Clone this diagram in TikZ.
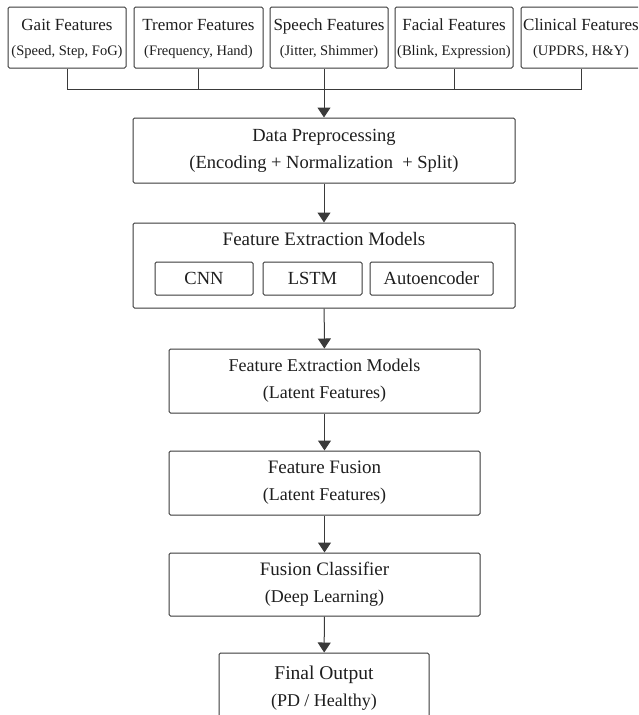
\documentclass[tikz,border=0pt]{standalone}
\usepackage{fontspec}
\setmainfont{Liberation Serif}
\usetikzlibrary{arrows.meta}
\definecolor{linec}{HTML}{3A3A3A}
\definecolor{textc}{HTML}{1E1E1E}
\begin{document}
\begin{tikzpicture}[x=1pt,y=-1pt,
  box/.style={draw=linec, line width=1pt, rounded corners=1.5pt, inner sep=0pt, align=center, text=textc},
  topbox/.style={box, minimum width=118pt, minimum height=61pt, font=\fontsize{17}{25}\selectfont},
  bigbox/.style={box, minimum width=382pt},
  midbox/.style={box, minimum width=311pt, minimum height=64pt, font=\fontsize{19}{27}\selectfont},
  inbox/.style={box, minimum height=33pt, font=\fontsize{18.5}{22}\selectfont},
  conn/.style={draw=linec, line width=1pt},
  arr/.style={conn, -{Triangle[width=13pt,length=10pt]}},
  lbl/.style={inner sep=0pt, text=textc}
]
\useasboundingbox (0,0) rectangle (638,715);
\clip (0,0) rectangle (638,715);
\fill[white] (0,0) rectangle (638,715);

% top row
\node[topbox] (gait) at (67,37.5) {\rule{0pt}{14pt}Gait Features\\{\fontsize{14.5}{17}\selectfont (Speed, Step, FoG)}};
\node[topbox, minimum width=129pt] (trem) at (198.5,37.5) {\rule{0pt}{14pt}Tremor Features\\{\fontsize{14.5}{17}\selectfont (Frequency, Hand)}};
\node[topbox] (speech) at (329,37.5) {\rule{0pt}{14pt}Speech Features\\{\fontsize{14.5}{17}\selectfont (Jitter, Shimmer)}};
\node[topbox] (facial) at (454,37.5) {\rule{0pt}{14pt}Facial Features\\{\fontsize{14.5}{17}\selectfont (Blink, Expression)}};
\node[topbox, minimum width=120pt] (clin) at (581,37.5) {\rule{0pt}{14pt}Clinical Features\\{\fontsize{14.5}{17}\selectfont (UPDRS, H\&Y)}};

% data preprocessing
\node[bigbox, minimum height=65pt, font=\fontsize{18.5}{27}\selectfont] (dp) at (324,150.5) {Data Preprocessing\\(Encoding + Normalization \ + Split)};

% feature extraction models container
\node[bigbox, minimum height=85pt] (fem) at (324,265.5) {};
\node[lbl, font=\fontsize{19}{22}\selectfont] (femt) at (324,239) {Feature Extraction Models};
\node[inbox, minimum width=98pt] (cnn) at (204,278.5) {CNN};
\node[inbox, minimum width=99pt] (lstm) at (312.5,278.5) {LSTM};
\node[inbox, minimum width=123pt] (auto) at (431.5,278.5) {Autoencoder};

% lower boxes
\node[midbox, font=\fontsize{18}{27}\selectfont] (lat) at (324.5,381) {Feature Extraction Models\\(Latent Features)};
\node[midbox] (fus) at (324.5,483) {Feature Fusion\\{\fontsize{18}{22}\selectfont (Latent Features)}};
\node[midbox, minimum height=63pt] (cls) at (324.5,584.5) {Fusion Classifier\\{\fontsize{18}{22}\selectfont (Deep Learning)}};
\node[box, minimum width=210pt, minimum height=70pt, font=\fontsize{19.5}{27}\selectfont] (out) at (324,688) {Final Output\\{\fontsize{18}{22}\selectfont (PD / Healthy)}};

% bus
\coordinate (bus) at (0,89);
\draw[conn] (gait.south) -- (gait.south |- bus) -| (clin.south);
\draw[conn] (trem.south) -- (trem.south |- bus);
\draw[conn] (facial.south) -- (facial.south |- bus);
\draw[arr] (speech.south -| dp.north) -- (dp.north);

% vertical arrows
\draw[arr] (dp) -- (fem);
\draw[arr] (fem) -- (lat);
\draw[arr] (lat) -- (fus);
\draw[arr] (fus) -- (cls);
\draw[arr] (cls) -- (out);
\end{tikzpicture}
\end{document}
